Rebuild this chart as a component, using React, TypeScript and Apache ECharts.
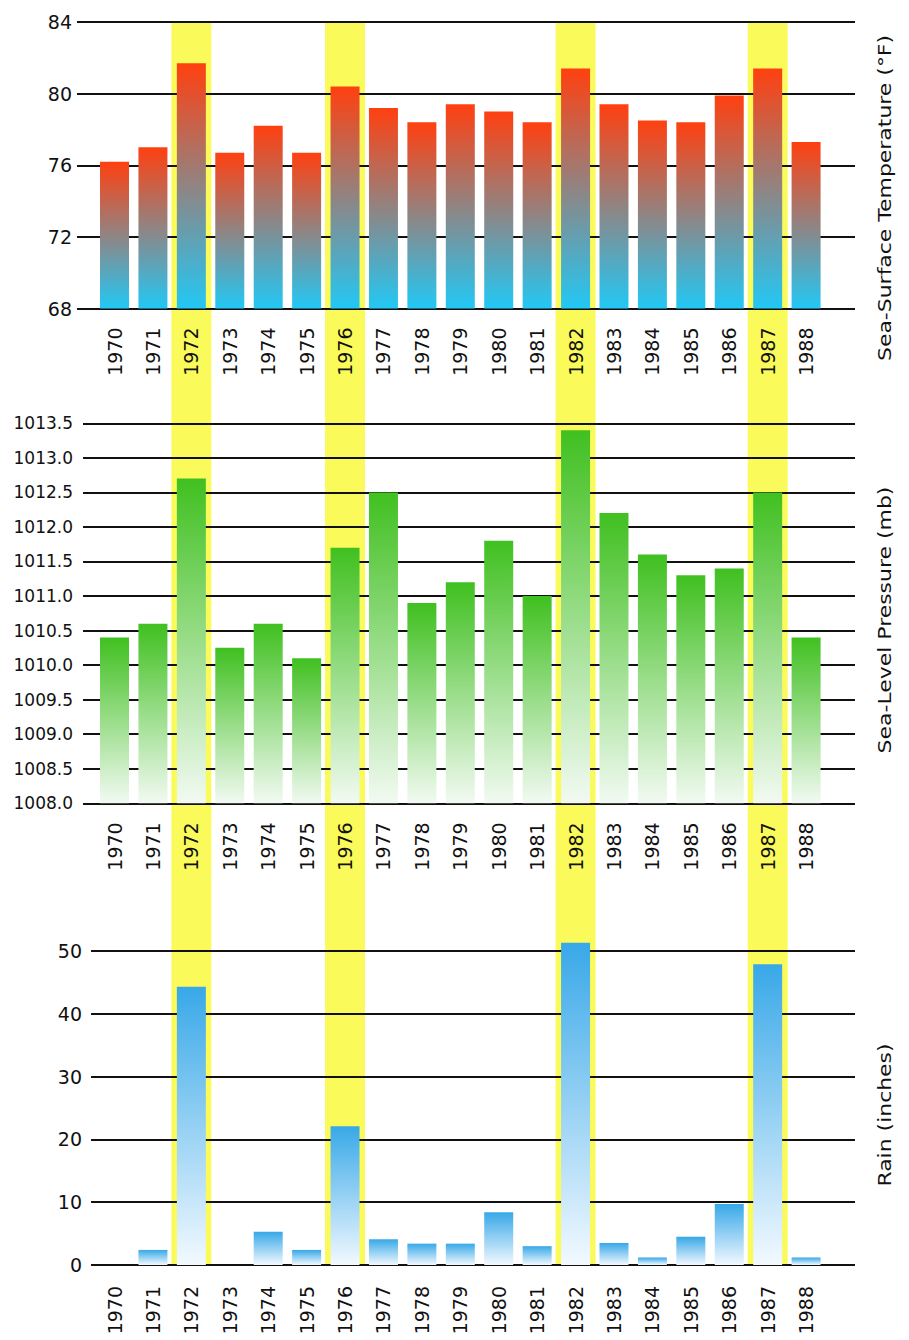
import React, { useEffect, useRef } from 'react';
import * as echarts from 'echarts';

const years = ['1970', '1971', '1972', '1973', '1974', '1975', '1976', '1977', '1978', '1979', '1980', '1981', '1982', '1983', '1984', '1985', '1986', '1987', '1988'];
const highlightYears = ['1972', '1976', '1982', '1987'];

const seaSurfaceTemp = [76.2, 77.0, 81.7, 76.7, 78.2, 76.7, 80.4, 79.2, 78.4, 79.4, 79.0, 78.4, 81.4, 79.4, 78.5, 78.4, 79.9, 81.4, 77.3];
const seaLevelPressure = [1010.4, 1010.6, 1012.7, 1010.25, 1010.6, 1010.1, 1011.7, 1012.5, 1010.9, 1011.2, 1011.8, 1011.0, 1013.4, 1012.2, 1011.6, 1011.3, 1011.4, 1012.5, 1010.4];
const rainInches = [0, 2.4, 44.3, 0, 5.3, 2.4, 22.1, 4.1, 3.4, 3.4, 8.4, 3.0, 51.3, 3.5, 1.2, 4.5, 9.7, 47.9, 1.2];

const tempTicks = [68, 72, 76, 80, 84];
const pressureTicks = [1008.0, 1008.5, 1009.0, 1009.5, 1010.0, 1010.5, 1011.0, 1011.5, 1012.0, 1012.5, 1013.0, 1013.5];
const rainTicks = [0, 10, 20, 30, 40, 50];

const FONT = 'DejaVu Sans';

export default function App() {
  const ref = useRef<HTMLDivElement>(null);
  useEffect(() => {
    if (!ref.current) return;
    const chart = echarts.init(ref.current, null, { renderer: 'svg' });
    const W = 909;
    const barLeft = 95.3;
    const barRight = W - 825.3;
    const frameRight = W - 855;

    const panels = [
      {
        top: 22, bottom: 308.5, frameLeft: 77, yMargin: 5, yFont: 19, xMargin: 19, ticks: tempTicks, data: seaSurfaceTemp,
        colors: ['#ff4010', '#22c8f5'], clip: true, fmt: (v: number) => String(v),
        title: 'Sea-Surface Temperature (°F)', titleY: 198,
      },
      {
        top: 423.3, bottom: 803.3, frameLeft: 83, yMargin: 10, yFont: 17, xMargin: 19, ticks: pressureTicks, data: seaLevelPressure,
        colors: ['#40c020', '#f2faf2'], clip: true, fmt: (v: number) => v.toFixed(1),
        title: 'Sea-Level Pressure (mb)', titleY: 620,
      },
      {
        top: 951, bottom: 1265, frameLeft: 91, yMargin: 9, yFont: 19, xMargin: 21, ticks: rainTicks, data: rainInches,
        colors: ['#38a8e8', '#f2f9ff'], clip: false, fmt: (v: number) => String(v),
        title: 'Rain (inches)', titleY: 1115,
      },
    ];

    const grid: any[] = [];
    const xAxis: any[] = [];
    const yAxis: any[] = [];
    const series: any[] = [];
    const graphic: any[] = [];

    // highlight band spanning all panels
    grid.push({ left: barLeft, right: barRight, top: 21, height: 1265 - 21 });
    xAxis.push({ type: 'category', gridIndex: 0, data: years, show: false });
    yAxis.push({ type: 'value', gridIndex: 0, min: 0, max: 1, show: false });
    series.push({
      type: 'bar', xAxisIndex: 0, yAxisIndex: 0, silent: true, z: 0,
      data: years.map((y) => (highlightYears.includes(y) ? 1 : 0)),
      barWidth: '104%', itemStyle: { color: '#fafa5a' },
    });

    panels.forEach((p) => {
      const min = p.ticks[0];
      const max = p.ticks[p.ticks.length - 1];
      const interval = p.ticks[1] - p.ticks[0];
      const height = p.bottom - p.top;

      const fi = grid.length;
      grid.push({ left: p.frameLeft, right: frameRight, top: p.top, height });
      xAxis.push({ type: 'value', gridIndex: fi, show: false, min: 0, max: 1 });
      yAxis.push({
        type: 'value', gridIndex: fi, min, max, interval, z: 1,
        axisLine: { show: false }, axisTick: { show: false },
        axisLabel: { margin: p.yMargin, fontFamily: FONT, fontSize: p.yFont, color: '#111', formatter: p.fmt },
        splitLine: { show: true, lineStyle: { color: '#111', width: 2 } },
      });

      const bi = grid.length;
      grid.push({ left: barLeft, right: barRight, top: p.top, height });
      xAxis.push({
        type: 'category', gridIndex: bi, data: years, z: 3,
        axisLine: { show: false }, axisTick: { show: false },
        axisLabel: { interval: 0, rotate: 90, margin: p.xMargin, fontFamily: FONT, fontSize: 19, color: '#111' },
      });
      yAxis.push({ type: 'value', gridIndex: bi, min, max, interval, show: false });
      series.push({
        type: 'bar', xAxisIndex: bi, yAxisIndex: bi, data: p.data, barWidth: 29, clip: p.clip, z: 2,
        itemStyle: {
          color: new echarts.graphic.LinearGradient(0, 0, 0, 1, [
            { offset: 0, color: p.colors[0] },
            { offset: 1, color: p.colors[1] },
          ]),
        },
      });

      graphic.push({
        type: 'text', x: 885, y: p.titleY, rotation: Math.PI / 2, scaleX: 1.22, scaleY: 1, z: 10,
        style: { text: p.title, fontFamily: FONT, fontSize: 18, fill: '#111', align: 'center', verticalAlign: 'middle' },
      });
    });

    chart.setOption({
      animation: false,
      backgroundColor: '#ffffff',
      grid, xAxis, yAxis, series, graphic,
    });
    return () => chart.dispose();
  }, []);

  return <div ref={ref} style={{ position: 'absolute', left: 0, top: 0, width: 909, height: 1340, background: '#fff' }} />;
}
